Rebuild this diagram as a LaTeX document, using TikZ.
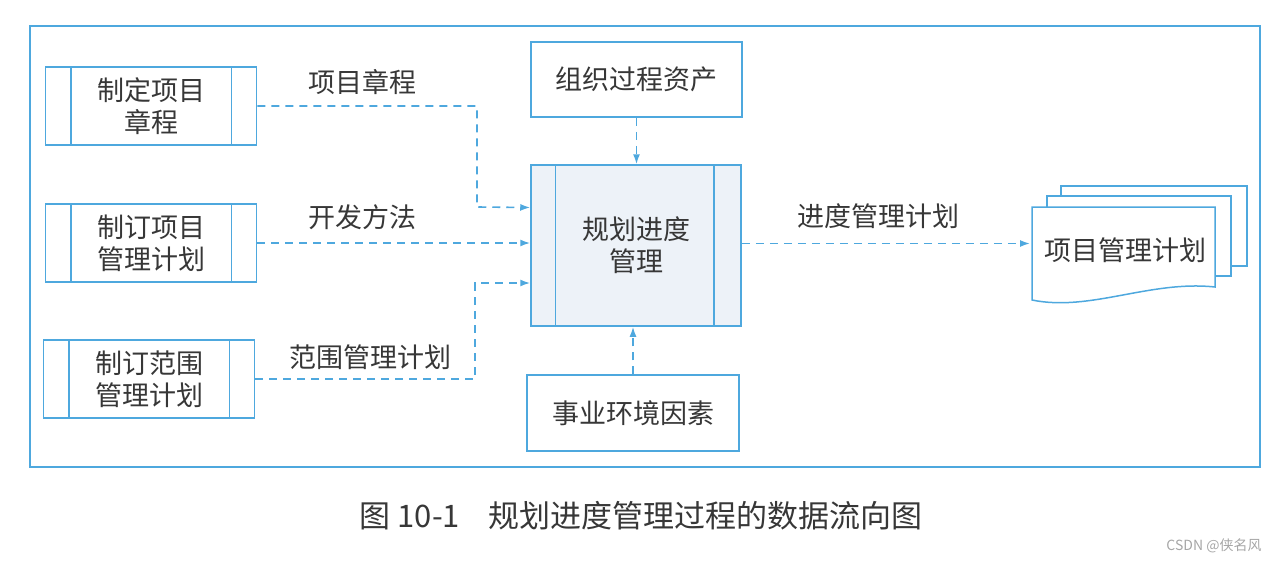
\documentclass[tikz,border=0pt]{standalone}
\usepackage{fontspec}
\usetikzlibrary{arrows.meta,calc}
\newfontfamily\cjk{Noto Sans CJK SC}
\definecolor{frameblue}{RGB}{78,168,222}
\definecolor{textgray}{RGB}{55,55,55}
\definecolor{procfill}{RGB}{237,242,248}

\begin{document}
\begin{tikzpicture}[x=1pt,y=-1pt,>={Latex[length=10pt,width=7pt]},
  box/.style={draw=frameblue,line width=1.5pt,fill=white,text=textgray,align=center,
    font=\cjk\fontsize{27}{32}\selectfont,inner sep=0pt},
  procbox/.style={box,minimum width=211pt,minimum height=78pt},
  flow/.style={->,frameblue,line width=1.6pt,dash pattern=on 8pt off 6pt},
  lbl/.style={text=textgray,font=\cjk\fontsize{27}{32}\selectfont}]
  \useasboundingbox (0,0) rectangle (1280,563);
  \draw[frameblue,line width=1.5pt] (30,26) rectangle (1260,467);

  % inputs on the left
  \node[procbox] (charter) at (151,106) {制定项目\\章程};
  \node[procbox] (pmplan) at (151,243) {制订项目\\管理计划};
  \node[procbox] (scope) at (149,379) {制订范围\\管理计划};
  \foreach \n in {charter,pmplan,scope}{
    \draw[frameblue,line width=1.5pt] ([xshift=26pt]\n.north west) -- ([xshift=26pt]\n.south west);
    \draw[frameblue,line width=1.5pt] ([xshift=-26pt]\n.north east) -- ([xshift=-26pt]\n.south east);
  }

  % the process itself
  \node[box,fill=procfill,minimum width=210pt,minimum height=161pt] (sched) at (636,245.5) {规划进度\\管理};
  \draw[frameblue,line width=1.5pt] ([xshift=25pt]sched.north west) -- ([xshift=25pt]sched.south west);
  \draw[frameblue,line width=1.5pt] ([xshift=-28pt]sched.north east) -- ([xshift=-28pt]sched.south east);
  \node[box,minimum width=211pt,minimum height=75pt] (opa) at (636.5,79.5) {组织过程资产};
  \node[box,minimum width=212pt,minimum height=76pt] (eef) at (633,413) {事业环境因素};

  % output document stack
  \draw[frameblue,line width=1.5pt,fill=white] (1061,186) rectangle (1247,266);
  \draw[frameblue,line width=1.5pt,fill=white] (1047,196) rectangle (1231,276);
  \draw[frameblue,line width=1.5pt,fill=white] (1032,300) -- (1032,207) -- (1215,207) -- (1215,287)
    .. controls (1150,280) and (1090,312) .. cycle;
  \node[lbl] (plan) at (1125,250) {项目管理计划};

  % connectors
  \coordinate (bendA) at (477,207);
  \coordinate (bendC) at (475,283);
  \draw[flow] (charter.east) -| (bendA) -- ([yshift=38pt]sched.west);
  \draw[flow] (pmplan.east) -- (pmplan.east -| sched.west);
  \draw[flow] (scope.east) -| (bendC) -- ([yshift=-37.5pt]sched.west);
  \draw[flow] (opa.south) -- (opa.south |- sched.north);
  \draw[flow] (eef.north) -- (eef.north |- sched.south);
  \draw[flow] ([yshift=2pt]sched.east) -- (1030,243.5);

  \node[lbl] at (362,82) {项目章程};
  \node[lbl] at (362,217) {开发方法};
  \node[lbl] at (370,357) {范围管理计划};
  \node[lbl] at (878,216) {进度管理计划};

  % caption and watermark
  \node[text=textgray,font=\cjk\fontsize{31}{36}\selectfont] (caption) at (641,516)
    {图 10-1\hspace{28pt}规划进度管理过程的数据流向图};
  \node[text=gray!70,font=\cjk\fontsize{14}{16}\selectfont] (mark) at (1214,546) {CSDN @侠名风};
\end{tikzpicture}
\end{document}
